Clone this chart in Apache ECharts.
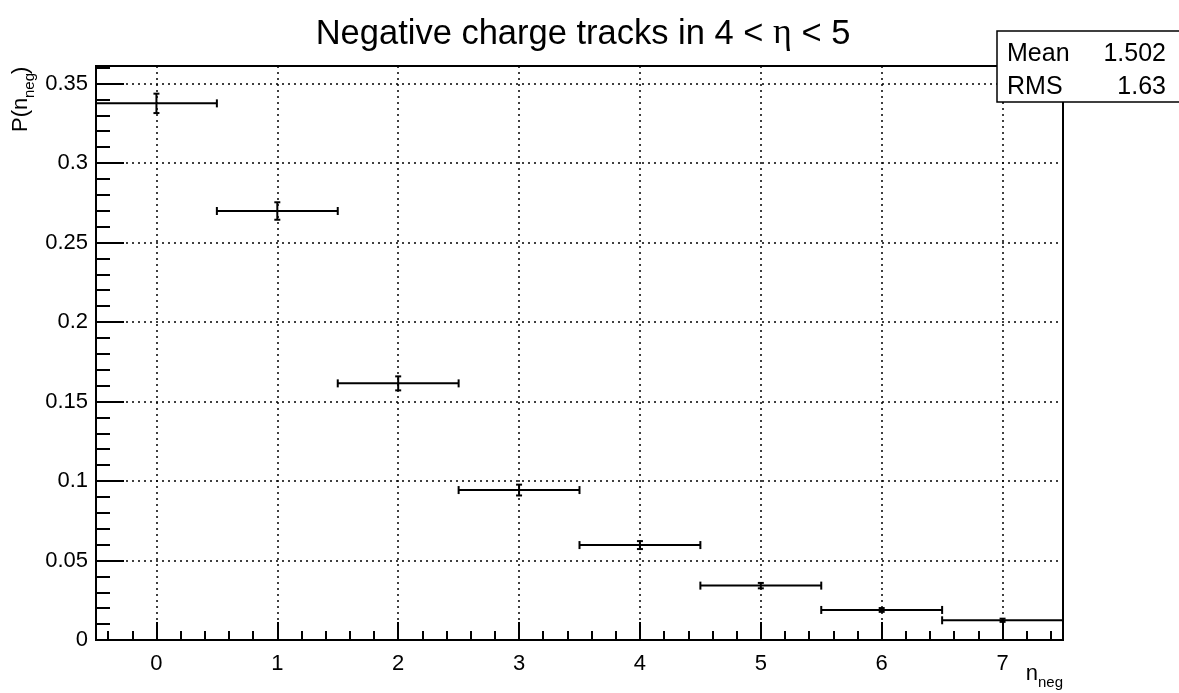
<!DOCTYPE html>
<html>
<head>
<meta charset="utf-8">
<script src="https://cdn.jsdelivr.net/npm/echarts@6/dist/echarts.min.js"></script>
<style>
html, body { margin: 0; padding: 0; background: #fff; }
#chart { width: 1179px; height: 693px; }
</style>
</head>
<body>
<div id="chart"></div>
<script>
// histogram bins (n_neg), probabilities and their errors
const binCenters = [0, 1, 2, 3, 4, 5, 6, 7];
const probValues = [0.3375, 0.2698, 0.1614, 0.0943, 0.0597, 0.0342, 0.0189, 0.0124];
const probErrors = [0.0061, 0.0055, 0.0044, 0.0034, 0.0025, 0.0017, 0.0012, 0.0010];
const binHalfWidths = [0.5, 0.5, 0.5, 0.5, 0.5, 0.5, 0.5, 0.5];

const xTickValues = [0, 1, 2, 3, 4, 5, 6, 7];
const statNames = ['Mean', 'RMS'];
const statValues = ['1.502', '1.63'];

const FONT = 'Liberation Sans';

// minor ticks every 0.2 between the integer ticks
const xMinorTicks = [];
for (let k = -2; k <= 37; k++) {
    if (k % 5 !== 0) xMinorTicks.push(k / 5);
}

const chart = echarts.init(document.getElementById('chart'), null, { renderer: 'canvas' });

const lineStyle = { color: '#000', width: 2 };
const gridLine = { color: '#000', width: 1.5, type: [2, 4] };

const option = {
    backgroundColor: '#fff',
    animation: false,
    title: {
        text: '{a|Negative charge tracks in 4 < }{b|η}{a| < 5}',
        left: 578,
        top: 11,
        textAlign: 'center',
        textStyle: {
            fontWeight: 'normal',
            rich: {
                a: { fontFamily: FONT, fontSize: 34.5, fontWeight: 'normal', color: '#000' },
                b: { fontFamily: 'Liberation Serif', fontSize: 36, fontWeight: 'normal', color: '#000' }
            }
        }
    },
    grid: {
        left: 96,
        right: 116,
        top: 66,
        bottom: 53,
        show: true,
        borderColor: '#000',
        borderWidth: 2,
        backgroundColor: 'transparent'
    },
    xAxis: [
        {
            type: 'value',
            min: -0.5,
            max: 7.5,
            position: 'bottom',
            axisLine: { show: true, onZero: false, lineStyle: lineStyle },
            axisTick: { show: true, inside: true, length: 18, customValues: xTickValues, lineStyle: lineStyle },
            axisLabel: { customValues: xTickValues, color: '#000', fontFamily: FONT, fontSize: 22, margin: 13 },
            splitLine: { show: true, lineStyle: gridLine }
        },
        {
            type: 'value',
            min: -0.5,
            max: 7.5,
            position: 'bottom',
            axisLine: { show: false },
            axisTick: { show: true, inside: true, length: 9, customValues: xMinorTicks, lineStyle: lineStyle },
            axisLabel: { show: false },
            splitLine: { show: false }
        }
    ],
    yAxis: {
        type: 'value',
        min: 0,
        max: 0.361,
        interval: 0.05,
        axisLine: { show: true, onZero: false, lineStyle: lineStyle },
        axisTick: { show: true, inside: true, length: 28, lineStyle: lineStyle },
        minorTick: { show: true, splitNumber: 5, length: 14, lineStyle: lineStyle },
        axisLabel: { color: '#000', fontFamily: FONT, fontSize: 22, margin: 8, showMaxLabel: false },
        splitLine: { show: true, lineStyle: gridLine },
        minorSplitLine: { show: false }
    },
    graphic: [
        // y axis title P(n_neg), rotated
        { type: 'text', x: 21, y: 132, rotation: Math.PI / 2, z: 100,
          style: { text: 'P(n', fontFamily: FONT, fontSize: 22, fill: '#000', align: 'left', verticalAlign: 'middle' } },
        { type: 'text', x: 30, y: 98, rotation: Math.PI / 2, z: 100,
          style: { text: 'neg', fontFamily: FONT, fontSize: 15, fill: '#000', align: 'left', verticalAlign: 'middle' } },
        { type: 'text', x: 21, y: 74, rotation: Math.PI / 2, z: 100,
          style: { text: ')', fontFamily: FONT, fontSize: 22, fill: '#000', align: 'left', verticalAlign: 'middle' } },
        // x axis title n_neg
        { type: 'text', x: 1038, y: 674, z: 100,
          style: { text: 'n', fontFamily: FONT, fontSize: 22, fill: '#000', align: 'right', verticalAlign: 'middle' } },
        { type: 'text', x: 1038, y: 683, z: 100,
          style: { text: 'neg', fontFamily: FONT, fontSize: 15, fill: '#000', align: 'left', verticalAlign: 'middle' } },
        // stats box
        { type: 'rect', z: 100, shape: { x: 997, y: 31, width: 200, height: 71 },
          style: { fill: '#fff', stroke: '#000', lineWidth: 1.5 } },
        { type: 'text', x: 1007, y: 54, z: 101,
          style: { text: statNames[0], fontFamily: FONT, fontSize: 25, fill: '#000', align: 'left', verticalAlign: 'middle' } },
        { type: 'text', x: 1166, y: 54, z: 101,
          style: { text: statValues[0], fontFamily: FONT, fontSize: 25, fill: '#000', align: 'right', verticalAlign: 'middle' } },
        { type: 'text', x: 1007, y: 87, z: 101,
          style: { text: statNames[1], fontFamily: FONT, fontSize: 25, fill: '#000', align: 'left', verticalAlign: 'middle' } },
        { type: 'text', x: 1166, y: 87, z: 101,
          style: { text: statValues[1], fontFamily: FONT, fontSize: 25, fill: '#000', align: 'right', verticalAlign: 'middle' } }
    ],
    series: [
        {
            type: 'custom',
            coordinateSystem: 'cartesian2d',
            xAxisIndex: 0,
            yAxisIndex: 0,
            clip: true,
            encode: { x: 0, y: 1 },
            data: binCenters.map((x, i) => [x, probValues[i], probErrors[i], binHalfWidths[i]]),
            renderItem: function (params, api) {
                const x = api.value(0);
                const y = api.value(1);
                const ey = api.value(2);
                const ex = api.value(3);
                const left = api.coord([x - ex, y]);
                const right = api.coord([x + ex, y]);
                const top = api.coord([x, y + ey]);
                const bottom = api.coord([x, y - ey]);
                const st = { stroke: '#000', lineWidth: 2 };
                const capX = 4;
                const capY = 3;
                return {
                    type: 'group',
                    children: [
                        { type: 'line', shape: { x1: left[0], y1: left[1], x2: right[0], y2: right[1] }, style: st },
                        { type: 'line', shape: { x1: left[0], y1: left[1] - capX, x2: left[0], y2: left[1] + capX }, style: st },
                        { type: 'line', shape: { x1: right[0], y1: right[1] - capX, x2: right[0], y2: right[1] + capX }, style: st },
                        { type: 'line', shape: { x1: top[0], y1: top[1], x2: bottom[0], y2: bottom[1] }, style: st },
                        { type: 'line', shape: { x1: top[0] - capY, y1: top[1], x2: top[0] + capY, y2: top[1] }, style: st },
                        { type: 'line', shape: { x1: bottom[0] - capY, y1: bottom[1], x2: bottom[0] + capY, y2: bottom[1] }, style: st }
                    ]
                };
            }
        }
    ]
};

chart.setOption(option);
window.addEventListener('resize', () => chart.resize());
</script>
</body>
</html>
